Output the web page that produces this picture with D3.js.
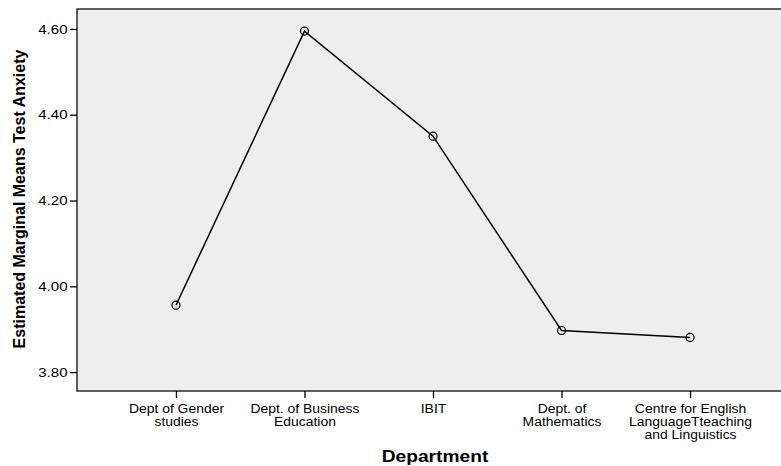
<!DOCTYPE html>
<html>
<head>
<meta charset="utf-8">
<script src="https://cdn.jsdelivr.net/npm/d3@7"></script>
<style>
  body { margin: 0; background: #fff; }
  text { font-family: "Liberation Sans", Arial, sans-serif; }
</style>
</head>
<body>
<svg id="chart" width="781" height="466"></svg>
<script>
// departments along the x axis, each label split on lines
const departments = [
    ['Dept of Gender', 'studies'],
    ['Dept. of Business', 'Education'],
    ['IBIT'],
    ['Dept. of', 'Mathematics'],
    ['Centre for English', 'LanguageTteaching', 'and Linguistics']
];
const means = [3.956, 4.595, 4.350, 3.897, 3.881];
const yTicks = [3.80, 4.00, 4.20, 4.40, 4.60];

let margin = {top: 9, right: 0, bottom: 75, left: 77};
let width = 781 - margin.left - margin.right;
let height = 466 - margin.top - margin.bottom;
// the original text is a bit wider than the font
let sx = 1.16;

const svg = d3.select('#chart');
let chart = svg.append('g')
    .attr('transform', `translate(${margin.left}, ${margin.top})`);

let keys = departments.map((d, i) => i);
let x = d3.scalePoint().domain(keys).range([0, width + 8]).padding(0.77);
let y = d3.scaleLinear().domain([3.756, 4.6465]).range([height, 0]);

// plot background
chart.append('rect')
    .attr('width', width + 4)
    .attr('height', height)
    .attr('fill', '#eeeeee')
    .attr('stroke', '#2b2b2b')
    .attr('stroke-width', 1.5);

let yAxis = d3.axisLeft(y).tickValues(yTicks).tickFormat(d3.format('.2f')).tickSize(7).tickPadding(2);
let yG = chart.append('g').call(yAxis);
yG.select('.domain').remove();
yG.selectAll('line').attr('stroke', '#000').attr('stroke-width', 1.3);
yG.selectAll('text')
    .attr('x', -9.5 / sx)
    .attr('transform', `scale(${sx}, 1)`)
    .attr('font-size', '13px').attr('fill', '#000')
    .attr('font-family', '"Liberation Sans", Arial, sans-serif');

let xAxis = d3.axisBottom(x).tickSize(7).tickFormat('');
let xG = chart.append('g').attr('transform', `translate(0, ${height})`).call(xAxis);
xG.select('.domain').remove();
xG.selectAll('line').attr('stroke', '#000').attr('stroke-width', 1.3);

xG.selectAll('.tick').append('text')
    .attr('text-anchor', 'middle')
    .attr('transform', `scale(${sx}, 1)`)
    .attr('fill', '#000')
    .attr('font-size', '12px')
    .attr('font-family', '"Liberation Sans", Arial, sans-serif')
    .selectAll('tspan')
    .data(d => departments[d])
    .enter()
        .append('tspan')
        .attr('x', 0)
        .attr('y', (d, i) => 22 + i * 13)
        .text(d => d);

let line = d3.line()
    .x((d, i) => x(i))
    .y(d => y(d));

chart.append('path')
    .datum(means)
    .attr('d', line)
    .attr('fill', 'none')
    .attr('stroke', '#000')
    .attr('stroke-width', 1.5);

chart.append('g').selectAll('circle')
    .data(means)
    .enter()
        .append('circle')
        .attr('cx', (d, i) => x(i))
        .attr('cy', d => y(d))
        .attr('r', 4)
        .attr('fill', 'none')
        .attr('stroke', '#000')
        .attr('stroke-width', 1.2);

// axis titles
svg.append('text')
    .attr('transform', 'translate(435, 462) scale(1.2, 1)')
    .attr('text-anchor', 'middle')
    .style('font-size', '16px').style('font-weight', 'bold')
    .text('Department');

svg.append('text')
    .attr('transform', `translate(25, ${margin.top + height / 2 - 1}) rotate(-90)`)
    .attr('text-anchor', 'middle')
    .style('font-size', '16px').style('font-weight', 'bold')
    .text('Estimated Marginal Means Test Anxiety');
</script>
</body>
</html>
